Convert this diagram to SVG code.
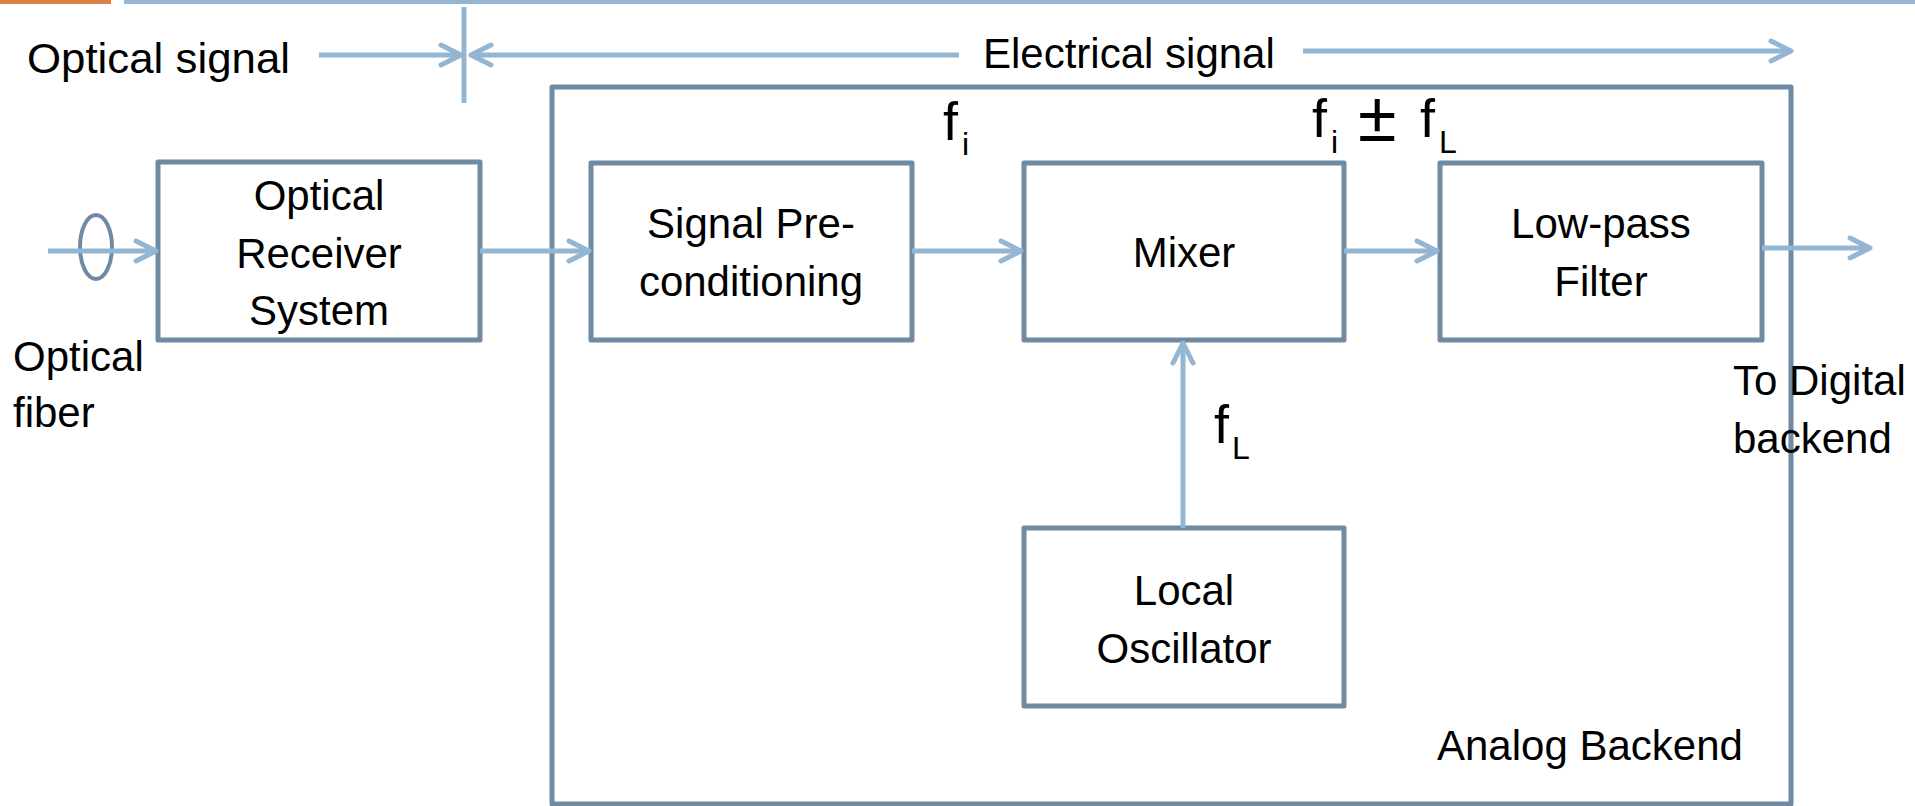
<svg xmlns="http://www.w3.org/2000/svg" width="1915" height="806" viewBox="0 0 1915 806">
  <defs>
    <style>
      .box { fill: #ffffff; stroke: #6F8AA2; stroke-width: 5; stroke-linejoin: round; }
      .frame { fill: none; stroke: #6F8AA2; stroke-width: 5; stroke-linejoin: round; }
      .conn { fill: none; stroke: #94B6D2; stroke-width: 5; marker-end: url(#chev); }
      .plain { fill: none; stroke: #94B6D2; stroke-width: 5; }
      .lbl { font-family: "Liberation Sans", Arial, sans-serif; font-size: 42px; fill: #000000; }
      .mid { text-anchor: middle; }
      .big { font-family: "Liberation Sans", Arial, sans-serif; font-size: 54px; fill: #000000; }
      .pm { font-family: "Liberation Sans", Arial, sans-serif; font-size: 70px; fill: #000000; }
      .sub { font-family: "Liberation Sans", Arial, sans-serif; font-size: 32px; fill: #000000; }
    </style>
    <marker id="chev" markerUnits="userSpaceOnUse" markerWidth="30" markerHeight="30" refX="0" refY="0" orient="auto" overflow="visible">
      <path d="M -20 -10 L 0 0 L -20 10" fill="none" stroke="#94B6D2" stroke-width="5" stroke-linecap="round" stroke-linejoin="round"/>
    </marker>
  </defs>

  <!-- header bars -->
  <rect x="0" y="0" width="111" height="4" fill="#DD8047"/>
  <rect x="124" y="0" width="1791" height="4" fill="#94B6D2"/>

  <!-- signal domain annotations -->
  <g id="domains">
    <text class="lbl" x="27" y="73" textLength="263" lengthAdjust="spacingAndGlyphs">Optical signal</text>
    <text class="lbl" x="983" y="68">Electrical signal</text>
    <line class="plain" x1="464" y1="7" x2="464" y2="103"/>
  </g>

  <!-- analog backend frame -->
  <g id="analog-backend">
    <rect class="frame" x="552" y="87" width="1239" height="717"/>
    <text class="lbl" x="1437" y="760">Analog Backend</text>
  </g>

  <!-- fiber -->
  <g id="optical-fiber">
    <ellipse cx="96" cy="247" rx="16" ry="32" fill="none" stroke="#6F8AA2" stroke-width="4"/>
    <text class="lbl" x="13" y="371">Optical</text>
    <text class="lbl" x="13" y="427">fiber</text>
  </g>

  <g id="optical-receiver">
    <rect class="box" x="158" y="162" width="322" height="178"/>
    <text class="lbl mid" x="319" y="210">Optical</text>
    <text class="lbl mid" x="319" y="268">Receiver</text>
    <text class="lbl mid" x="319" y="325">System</text>
  </g>

  <g id="signal-preconditioning">
    <rect class="box" x="591" y="163" width="321" height="177"/>
    <text class="lbl mid" x="751" y="238">Signal Pre-</text>
    <text class="lbl mid" x="751" y="296">conditioning</text>
  </g>

  <g id="mixer">
    <rect class="box" x="1024" y="163" width="320" height="177"/>
    <text class="lbl mid" x="1184" y="267">Mixer</text>
  </g>

  <g id="low-pass-filter">
    <rect class="box" x="1440" y="163" width="322" height="177"/>
    <text class="lbl mid" x="1601" y="238">Low-pass</text>
    <text class="lbl mid" x="1601" y="296">Filter</text>
  </g>

  <g id="local-oscillator">
    <rect class="box" x="1024" y="528" width="320" height="178"/>
    <text class="lbl mid" x="1184" y="605">Local</text>
    <text class="lbl mid" x="1184" y="663">Oscillator</text>
  </g>

  <g id="output">
    <text class="lbl" x="1733" y="395">To Digital</text>
    <text class="lbl" x="1733" y="453">backend</text>
  </g>

  <!-- frequency labels -->
  <g id="freq-labels">
    <text class="big" x="943" y="140">f</text>
    <text class="sub" x="962" y="155">i</text>
    <text class="big" x="1312" y="137">f</text>
    <text class="sub" x="1331" y="153">i</text>
    <text class="pm" x="1358" y="141">±</text>
    <text class="big" x="1420" y="137">f</text>
    <text class="sub" x="1439" y="153">L</text>
    <text class="big" x="1214" y="443">f</text>
    <text class="sub" x="1232" y="459">L</text>
  </g>

  <!-- connectors -->
  <g id="connectors">
    <line class="conn" x1="319" y1="55" x2="461" y2="55"/>
    <line class="conn" x1="959" y1="55" x2="471" y2="55"/>
    <line class="conn" x1="1303" y1="51" x2="1791" y2="51"/>
    <line class="conn" x1="48" y1="251" x2="156" y2="251"/>
    <line class="conn" x1="480" y1="251" x2="589" y2="251"/>
    <line class="conn" x1="912" y1="251" x2="1021" y2="251"/>
    <line class="conn" x1="1344" y1="251" x2="1437" y2="251"/>
    <line class="conn" x1="1762" y1="248" x2="1870" y2="248"/>
    <line class="conn" x1="1183" y1="528" x2="1183" y2="343"/>
  </g>
</svg>
